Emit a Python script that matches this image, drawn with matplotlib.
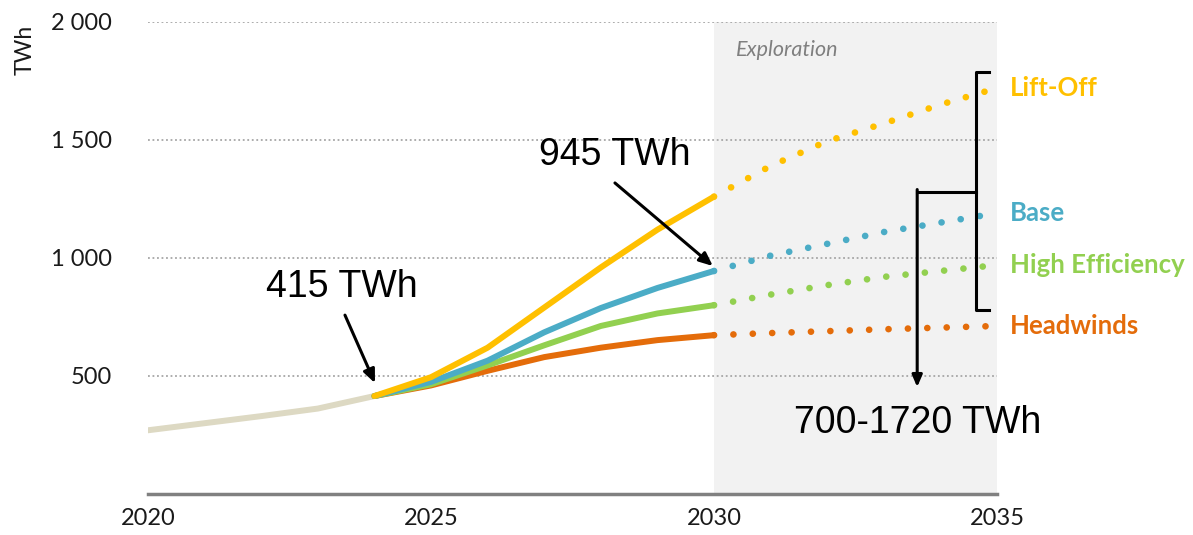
import matplotlib
matplotlib.use("Agg")
import matplotlib.pyplot as plt

# ---- data ----
hist_years = [2020, 2021, 2022, 2023, 2024]
hist_vals = [270, 300, 330, 362, 415]

proj_years = [2024, 2025, 2026, 2027, 2028, 2029, 2030]
liftoff = [415, 495, 620, 790, 960, 1120, 1260]
base = [415, 475, 565, 685, 788, 873, 945]
high_eff = [415, 465, 545, 630, 712, 765, 800]
headwinds = [415, 460, 522, 580, 620, 652, 673]

expl_years = [2030, 2031, 2032, 2033, 2034, 2035]
liftoff_x = [1260, 1390, 1495, 1570, 1650, 1720]
base_x = [945, 1010, 1060, 1110, 1150, 1190]
high_eff_x = [800, 845, 885, 920, 945, 970]
headwinds_x = [673, 682, 690, 698, 705, 712]

yticks = [500, 1000, 1500, 2000]
ytick_labels = ["500", "1 000", "1 500", "2 000"]
xticks = [2020, 2025, 2030, 2035]
series_names = ["Lift-Off", "Base", "High Efficiency", "Headwinds"]
colors = ["#FFC000", "#4BACC6", "#92D050", "#E46C0A"]

plt.rcParams['font.family'] = ['Lato', 'DejaVu Sans']

fig = plt.figure(figsize=(11.93, 5.35), dpi=100)
ax = fig.add_axes([148/1193, 41/535, 849/1193, 472/535])
ax.set_xlim(2020, 2035)
ax.set_ylim(0, 2000)

# shaded exploration region
ax.axvspan(2030, 2035, ymin=0, ymax=1.0, color="#F2F2F2", zorder=0, lw=0)
ax.text(2030.38, 1881, "Exploration", style="italic", color="#7F7F7F", fontsize=15.5,
        ha="left", va="center")

# grid
for yv in yticks:
    ax.axhline(yv, color="#A6A6A6", lw=1.3, ls=(0, (1, 1.5)), zorder=1)

# history
ax.plot(hist_years, hist_vals, color="#DDD9C3", lw=4.3, solid_capstyle="round", zorder=3)

proj = [liftoff, base, high_eff, headwinds]
expl = [liftoff_x, base_x, high_eff_x, headwinds_x]
for vals, xv, c in zip(proj[::-1], expl[::-1], colors[::-1]):
    ax.plot(proj_years, vals, color=c, lw=4.3, solid_capstyle="round", zorder=4)
    ax.plot(expl_years, xv, color=c, lw=4.8, ls=(0, (0.01, 2.9)),
            dash_capstyle="round", zorder=4)

for name, xv, c in zip(series_names, expl, colors):
    ax.text(2035.23, xv[-1], name, color=c, fontsize=18.5, fontweight="bold",
            ha="left", va="center", clip_on=False)

# axes styling
for s in ["top", "right", "left"]:
    ax.spines[s].set_visible(False)
ax.spines["bottom"].set_color("#808080")
ax.spines["bottom"].set_linewidth(2.5)
ax.set_yticks(yticks)
ax.set_yticklabels(ytick_labels)
ax.set_xticks(xticks)
ax.tick_params(axis="both", length=0, labelsize=17, colors="#1a1a1a")
ax.tick_params(axis="y", pad=26)
ax.tick_params(axis="x", pad=10)
ax.text(-0.145, 0.94, "TWh", transform=ax.transAxes, rotation=90, fontsize=16.5,
        color="#1a1a1a", ha="center", va="center")

# annotations
afont = dict(family="Liberation Sans", fontsize=27, color="black")
ax.text(2028.25, 1436, "945 TWh", ha="center", va="center", **afont)
ax.annotate("", xy=(2029.98, 966), xytext=(2028.25, 1318),
            arrowprops=dict(arrowstyle="-|>,head_length=0.8,head_width=0.35",
                            color="black", lw=2.2, shrinkA=0, shrinkB=0), zorder=6)
ax.text(2023.43, 877, "415 TWh", ha="center", va="center", **afont)
ax.annotate("", xy=(2024.01, 470), xytext=(2023.48, 758),
            arrowprops=dict(arrowstyle="-|>,head_length=0.8,head_width=0.35",
                            color="black", lw=2.2, shrinkA=0, shrinkB=0), zorder=6)
ax.text(2033.59, 301, "700-1720 TWh", ha="center", va="center", **afont)

# bracket
bx = 2034.63
ax.plot([2034.86, bx, bx, 2034.86], [1788, 1788, 780, 780], color="black", lw=2.2,
        clip_on=False, zorder=6, solid_joinstyle="round")
ax.plot([2033.59, bx], [1280, 1280], color="black", lw=2.2, clip_on=False, zorder=6)
ax.annotate("", xy=(2033.59, 453), xytext=(2033.59, 1290),
            arrowprops=dict(arrowstyle="-|>,head_length=0.7,head_width=0.3",
                            color="black", lw=2.2, shrinkA=0, shrinkB=0), zorder=6)

fig.savefig("out.png", dpi=100, facecolor="white")
